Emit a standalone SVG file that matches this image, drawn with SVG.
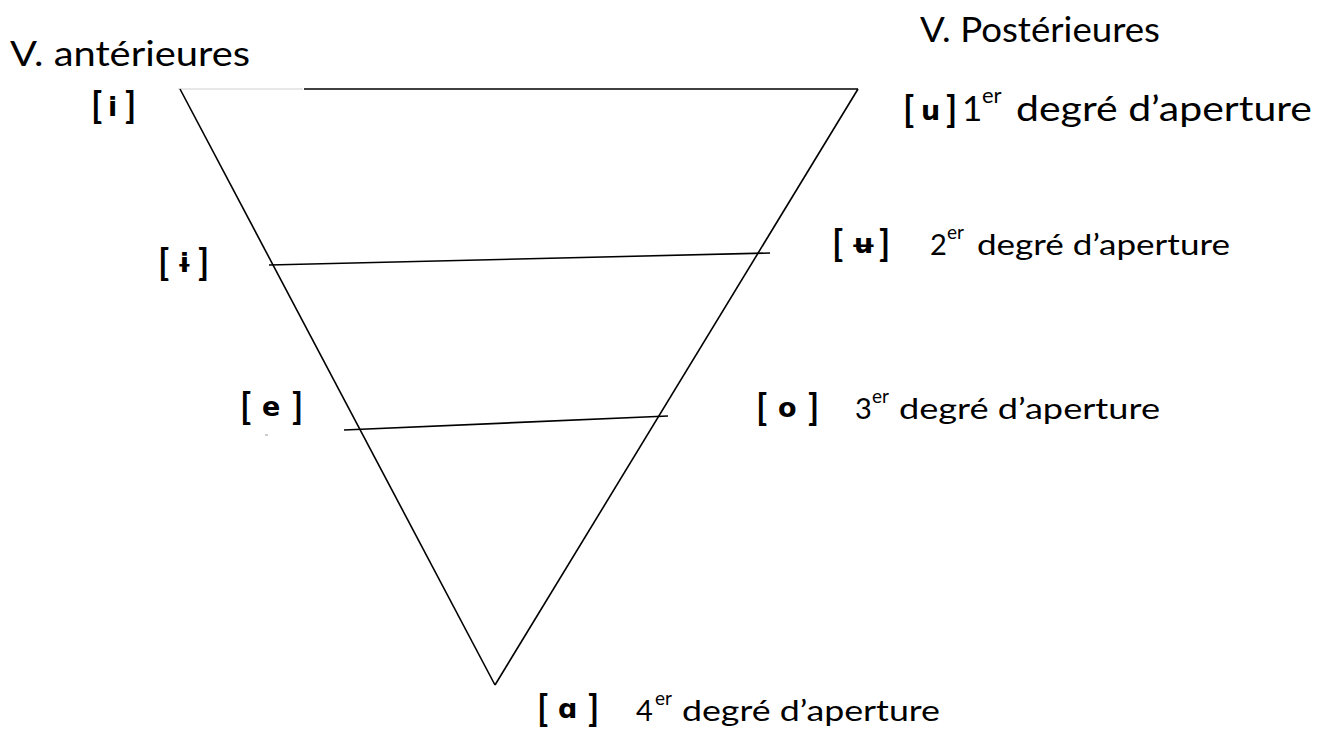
<svg xmlns="http://www.w3.org/2000/svg" width="1328" height="729" viewBox="0 0 1328 729">
<style>
.t{font-family:Lato,"Open Sans","Liberation Sans",sans-serif;fill:#000}
.big{font-size:35px}
.mid{font-size:29px}
.sup{font-size:19px}
.supb{font-size:22px}
.br{font-family:Lato,"Liberation Sans",sans-serif;font-weight:bold;fill:#000;font-size:36px}
.ipa{font-family:"DejaVu Sans","Noto Sans",sans-serif;font-weight:bold;fill:#000;font-size:27px}
.edge{stroke:#000;stroke-width:1.6;fill:none}
</style>
<rect width="1328" height="729" fill="#fff"/>
<g id="triangle">
<line x1="178" y1="89" x2="303" y2="89" stroke="#d0d0d0" stroke-width="1.2"/>
<line class="edge" x1="304" y1="89" x2="858" y2="89"/>
<line class="edge" x1="180" y1="89" x2="495" y2="685"/>
<line class="edge" x1="858" y1="89" x2="495" y2="685"/>
</g>
<g id="connectors">
<line class="edge" x1="269" y1="265" x2="770" y2="253"/>
<line class="edge" x1="344" y1="430" x2="668" y2="416"/>
<line x1="265" y1="435" x2="268" y2="435" stroke="#999" stroke-width="1"/>
</g>
<g id="title-ant">
<text class="t big" x="10" y="66" textLength="240" lengthAdjust="spacingAndGlyphs">V. antérieures</text>
</g>
<g id="title-post">
<text class="t big" x="920" y="42" textLength="240" lengthAdjust="spacingAndGlyphs">V. Postérieures</text>
</g>
<g id="i">
<text class="br" x="91" y="118">[</text>
<text class="ipa" x="108" y="116">i</text>
<text class="br" x="125" y="118">]</text>
</g>
<g id="u">
<text class="br" font-size="38" x="903" y="122">[</text>
<text class="ipa" font-size="29" x="921" y="120">u</text>
<text class="br" font-size="38" x="946" y="122">]</text>
<text class="t big" x="962" y="121">1</text>
<text class="t supb" x="982" y="103">er</text>
<text class="t big" x="1016" y="121" textLength="296" lengthAdjust="spacingAndGlyphs">degré d’aperture</text>
</g>
<g id="i-bar">
<text class="br" x="158" y="275">[</text>
<text class="ipa" x="177" y="272">ɨ</text>
<text class="br" x="198" y="275">]</text>
</g>
<g id="u-bar">
<text class="br" x="832" y="256">[</text>
<text class="ipa" x="851" y="253">ʉ</text>
<text class="br" x="879" y="256">]</text>
<text class="t mid" x="930" y="255">2</text>
<text class="t sup" x="947" y="239">er</text>
<text class="t mid" x="977" y="255" textLength="253" lengthAdjust="spacingAndGlyphs">degré d’aperture</text>
</g>
<g id="e">
<text class="br" x="240" y="419">[</text>
<text class="ipa" x="262" y="416">e</text>
<text class="br" x="292" y="419">]</text>
</g>
<g id="o">
<text class="br" x="756" y="420">[</text>
<text class="ipa" x="778" y="417">o</text>
<text class="br" x="808" y="420">]</text>
<text class="t mid" x="855" y="419">3</text>
<text class="t sup" x="872" y="403">er</text>
<text class="t mid" x="899" y="419" textLength="261" lengthAdjust="spacingAndGlyphs">degré d’aperture</text>
</g>
<g id="a">
<text class="br" x="537" y="721">[</text>
<text class="ipa" x="558" y="718">ɑ</text>
<text class="br" x="588" y="721">]</text>
<text class="t mid" x="636" y="721">4</text>
<text class="t sup" x="655" y="705">er</text>
<text class="t mid" x="682" y="721" textLength="258" lengthAdjust="spacingAndGlyphs">degré d’aperture</text>
</g>
</svg>
